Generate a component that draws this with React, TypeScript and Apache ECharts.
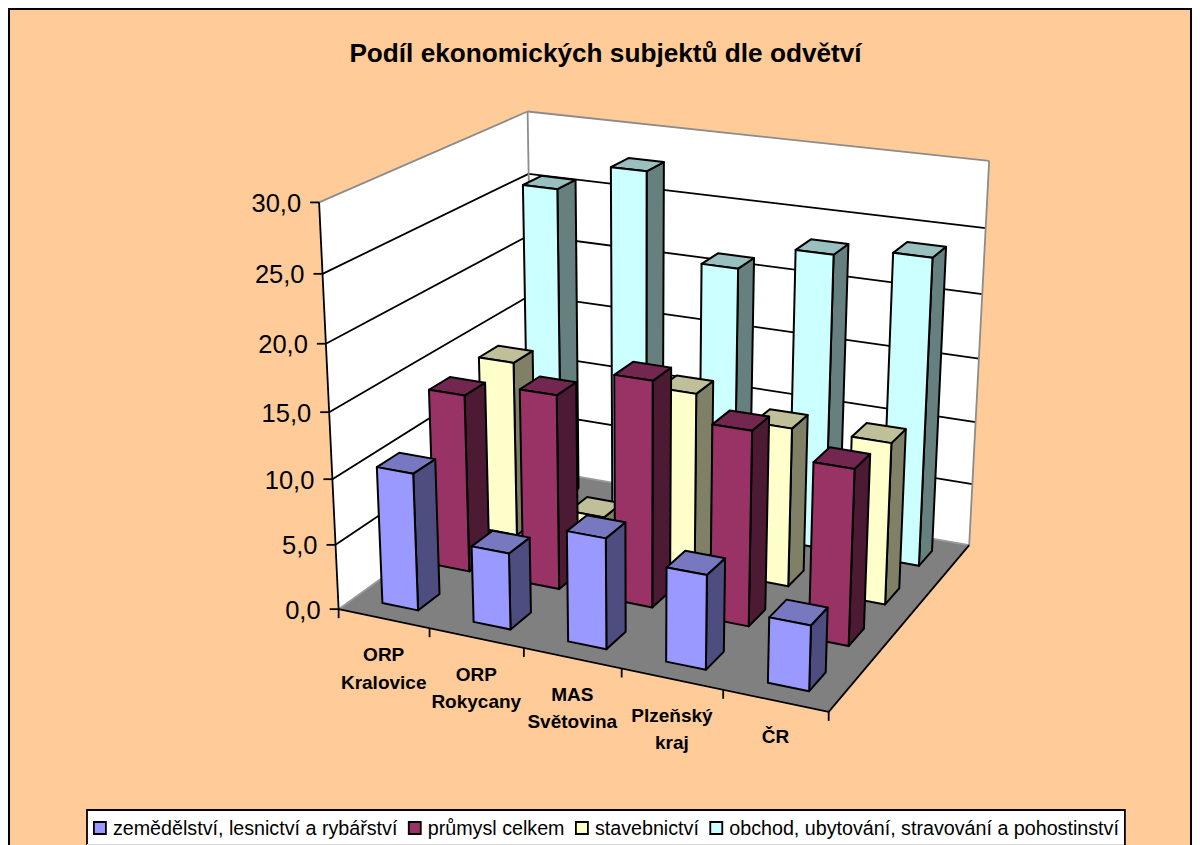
import React, { useEffect, useRef } from "react";
import * as echarts from "echarts";

const TITLE = "Podíl ekonomických subjektů dle odvětví";
const categories = ["ORP\nKralovice", "ORP\nRokycany", "MAS\nSvětovina", "Plzeňský\nkraj", "ČR"];
const yTicks = [0, 5, 10, 15, 20, 25, 30];
const yTickLabels = ["0,0", "5,0", "10,0", "15,0", "20,0", "25,0", "30,0"];

const agriculture = [10.5, 5.8, 8.3, 7.0, 4.8];
const industry = [13.85, 15.0, 17.2, 14.7, 13.15];
const construction = [14.0, 2.8, 13.8, 12.3, 12.4];
const trade = [25.6, 27.8, 21.2, 23.2, 23.9];

const seriesDefs = [
  { name: "zemědělství, lesnictví a rybářství", values: agriculture, row: 0, front: "#9999FF", top: "#7878C0", side: "#4D4D80" },
  { name: "průmysl celkem", values: industry, row: 1, front: "#993366", top: "#732650", side: "#4D1A33" },
  { name: "stavebnictví", values: construction, row: 2, front: "#FFFFCC", top: "#BFBF99", side: "#808066" },
  { name: "obchod, ubytování, stravování a pohostinství", values: trade, row: 3, front: "#CCFFFF", top: "#99BFBF", side: "#668080" },
];

// Camera calibration: (category pos, value, row pos) -> picture pixel
const calib: number[][] = [
  [0, 0, 0, 339, 607], [0, 30, 0, 318, 203], [0, 25, 0, 321, 274], [0, 10, 0, 333, 479], [0, 5, 0, 336, 545],
  [5, 0, 0, 829, 713], [5, 0, 4, 970, 543], [5, 30, 4, 989, 162], [0, 30, 4, 529, 111], [0, 0, 4, 531, 472],
  [0, 25, 4, 530, 173], [5, 25, 4, 985, 228], [5, 20, 4, 982, 294], [5, 15, 4, 979, 358],
  [1, 0, 0, 431, 627], [2, 0, 0, 524, 648], [3, 0, 0, 621, 669], [4, 0, 0, 723, 691],
];

function solveCamera(): number[] {
  const n = 11;
  const A: number[][] = Array.from({ length: n }, () => new Array(n + 1).fill(0));
  const add = (r: number[], b: number) => {
    for (let i = 0; i < n; i++) {
      for (let j = 0; j < n; j++) A[i][j] += r[i] * r[j];
      A[i][n] += r[i] * b;
    }
  };
  for (const [x, v, z, u, w] of calib) {
    const y = v / 5;
    add([x, y, z, 1, 0, 0, 0, 0, -u * x, -u * y, -u * z], u);
    add([0, 0, 0, 0, x, y, z, 1, -w * x, -w * y, -w * z], w);
  }
  for (let c = 0; c < n; c++) {
    let p = c;
    for (let r = c + 1; r < n; r++) if (Math.abs(A[r][c]) > Math.abs(A[p][c])) p = r;
    [A[c], A[p]] = [A[p], A[c]];
    for (let r = 0; r < n; r++) {
      if (r === c) continue;
      const f = A[r][c] / A[c][c];
      for (let k = c; k <= n; k++) A[r][k] -= f * A[c][k];
    }
  }
  return A.map((row, i) => row[n] / row[i]);
}
const P = solveCamera();
const project = (x: number, v: number, z: number): number[] => {
  const y = v / 5;
  const d = P[8] * x + P[9] * y + P[10] * z + 1;
  return [(P[0] * x + P[1] * y + P[2] * z + P[3]) / d, (P[4] * x + P[5] * y + P[6] * z + P[7]) / d];
};

const BAR_W = 0.395;
const BAR_D = 0.41;
const poly = (points: number[][], fill: string, stroke = "#000", lineWidth = 2) => ({
  type: "polygon",
  shape: { points },
  style: { fill, stroke, lineWidth, lineJoin: "round" },
});
const seg = (a: number[], b: number[], stroke = "#000", lineWidth = 1.8) => ({
  type: "line",
  shape: { x1: a[0], y1: a[1], x2: b[0], y2: b[1] },
  style: { stroke, lineWidth },
});

function frameItem() {
  const edge = "#8C8C8C";
  const children: any[] = [];
  children.push(poly([project(0, 0, 0), project(0, 30, 0), project(0, 30, 4), project(0, 0, 4)], "#fff", "none", 0));
  children.push(poly([project(0, 0, 4), project(0, 30, 4), project(5, 30, 4), project(5, 0, 4)], "#fff", "none", 0));
  children.push(poly([project(0, 0, 0), project(5, 0, 0), project(5, 0, 4), project(0, 0, 4)], "#808080", "none", 0));
  yTicks.forEach((t, i) => {
    if (t > 0 && t < 30) {
      children.push(seg(project(0, t, 0), project(0, t, 4)));
      children.push(seg(project(0, t, 4), project(5, t, 4)));
    }
    const p = project(0, t, 0);
    children.push(seg([p[0] - 9, p[1]], p));
    children.push({
      type: "text",
      x: p[0] - 18,
      y: p[1] + 0.5,
      style: { text: yTickLabels[i], fill: "#000", font: '25.5px "Liberation Sans"', align: "right", verticalAlign: "middle" },
    });
  });
  children.push(seg(project(0, 30, 0), project(0, 30, 4), edge));
  children.push(seg(project(0, 30, 4), project(5, 30, 4), edge));
  children.push(seg(project(0, 30, 4), project(0, 0, 4), edge));
  children.push(seg(project(5, 30, 4), project(5, 0, 4), edge));
  children.push(seg(project(0, 0, 4), project(5, 0, 4), "#9A9A9A"));
  children.push(seg(project(0, 0, 0), project(0, 0, 4), "#9A9A9A"));
  children.push(seg(project(0, 0, 0), project(0, 30, 0)));
  children.push(seg(project(0, 0, 0), project(5, 0, 0)));
  children.push(seg(project(5, 0, 0), project(5, 0, 4)));
  categories.forEach((c, i) => {
    const a = project(i, 0, 0);
    children.push(seg(a, [a[0], a[1] + 9]));
    const m = project(i + 0.5, 0, 0);
    children.push({
      type: "text",
      x: m[0],
      y: m[1] + 22.5,
      style: { text: c, fill: "#000", font: 'bold 19px "Liberation Sans"', align: "center", verticalAlign: "top", lineHeight: 27.5 },
    });
  });
  const last = project(5, 0, 0);
  children.push(seg(last, [last[0], last[1] + 9]));
  return { type: "group", children };
}

function barItem(def: (typeof seriesDefs)[number], api: any) {
  const i = api.value(0);
  const v = api.value(1);
  const x0 = i + 0.5 - BAR_W / 2 + 0.005;
  const x1 = x0 + BAR_W;
  const z0 = def.row + 0.5 - BAR_D / 2;
  const z1 = z0 + BAR_D;
  return {
    type: "group",
    children: [
      poly([project(x1, 0, z0), project(x1, v, z0), project(x1, v, z1), project(x1, 0, z1)], def.side),
      poly([project(x0, v, z0), project(x1, v, z0), project(x1, v, z1), project(x0, v, z1)], def.top),
      poly([project(x0, 0, z0), project(x1, 0, z0), project(x1, v, z0), project(x0, v, z0)], def.front),
    ],
  };
}

export default function App() {
  const ref = useRef<HTMLDivElement>(null);
  useEffect(() => {
    const chart = echarts.init(ref.current!, null, { renderer: "svg" });
    chart.setOption({
      animation: false,
      tooltip: { show: false },
      title: {
        text: TITLE,
        left: 600.5,
        textAlign: "center",
        top: 35,
        textStyle: { fontFamily: "Liberation Sans", fontWeight: "bold", fontSize: 26.2, color: "#000" },
      },
      legend: {
        data: seriesDefs.map((d) => d.name),
        left: 87,
        top: 810,
        orient: "horizontal",
        icon: "rect",
        itemWidth: 12,
        itemHeight: 12,
        itemGap: 10.5,
        padding: [8, 6, 20, 6],
        backgroundColor: "#fff",
        borderColor: "#000",
        borderWidth: 1.8,
        selectedMode: false,
        itemStyle: { borderColor: "#000", borderWidth: 1.8 },
        textStyle: { fontFamily: "Liberation Sans", fontSize: 19.7, color: "#000", padding: [0, 0, 0, 2] },
      },
      graphic: [
        {
          type: "rect",
          z: -10,
          silent: true,
          shape: { x: 9, y: 9, width: 1182, height: 900 },
          style: { fill: "#FFCC99", stroke: "#000", lineWidth: 2 },
        },
        {
          type: "line",
          z: 100,
          silent: true,
          shape: { x1: 87, y1: 844.5, x2: 1124, y2: 844.5 },
          style: { stroke: "#D8D8D8", lineWidth: 1 },
        },
      ],
      series: [
        {
          type: "custom",
          name: "frame",
          coordinateSystem: "none",
          silent: true,
          data: [[0]],
          renderItem: () => frameItem(),
        },
        ...[...seriesDefs].reverse().map((def) => ({
          type: "custom",
          name: def.name,
          coordinateSystem: "none",
          silent: true,
          itemStyle: { color: def.front },
          data: def.values.map((v, i) => [i, v]),
          dimensions: ["cat", "value"],
          renderItem: (_p: any, api: any) => barItem(def, api),
        })),
      ],
    });
    return () => chart.dispose();
  }, []);
  return <div ref={ref} style={{ position: "absolute", left: 0, top: 0, width: 1200, height: 845 }} />;
}
